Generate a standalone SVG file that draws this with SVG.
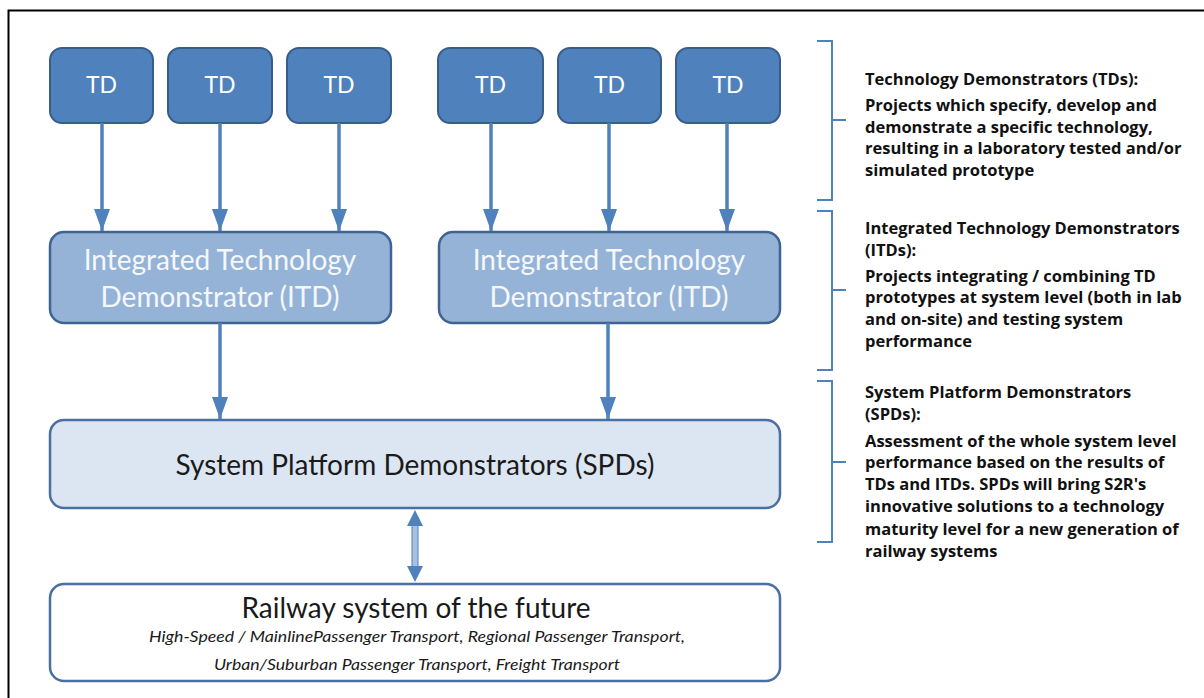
<svg xmlns="http://www.w3.org/2000/svg" width="1204" height="698" viewBox="0 0 1204 698">
<defs>
<style>
.td rect{fill:#4f81bd;stroke:#385d8a;stroke-width:2}
.td text{fill:#fff;font-family:Lato,"Open Sans",sans-serif;font-size:23px;text-anchor:middle}
.itd rect{fill:#95b3d7;stroke:#3f6491;stroke-width:2.5}
.itd text{fill:#f4f7fb;font-family:Lato,"Open Sans",sans-serif;font-size:28px;text-anchor:middle}
.spd rect{fill:#dce6f2;stroke:#4a6fa0;stroke-width:2.5}
.dark{fill:#1a1a1a;font-family:Lato,"Open Sans",sans-serif;text-anchor:middle}
.conn line{stroke:#4f81bd;stroke-width:3.5}
.brace{fill:none;stroke:#4f81bd;stroke-width:2}
.desc{fill:#111;font-family:"Open Sans","Liberation Sans",sans-serif;font-weight:bold;font-size:16.5px}
</style>
<marker id="ah" markerWidth="22" markerHeight="16" refX="22" refY="8" orient="auto" markerUnits="userSpaceOnUse" viewBox="0 0 22 16">
<path d="M0,0 L22,8 L0,16 Z" fill="#4f81bd"/>
</marker>
</defs>
<rect width="1204" height="698" fill="#fff"/>
<path d="M8.5,698 L8.5,10.5 L1204,10.5" fill="none" stroke="#000" stroke-width="2"/>

<g id="td1" class="td"><rect x="50" y="48" width="103" height="75" rx="12"/><text x="101.5" y="93">TD</text></g>
<g id="td2" class="td"><rect x="168" y="48" width="104" height="75" rx="12"/><text x="220" y="93">TD</text></g>
<g id="td3" class="td"><rect x="287" y="48" width="104" height="75" rx="12"/><text x="339" y="93">TD</text></g>
<g id="td4" class="td"><rect x="438" y="48" width="105" height="75" rx="12"/><text x="490.5" y="93">TD</text></g>
<g id="td5" class="td"><rect x="558" y="48" width="103" height="75" rx="12"/><text x="609.5" y="93">TD</text></g>
<g id="td6" class="td"><rect x="676" y="48" width="104" height="75" rx="12"/><text x="728" y="93">TD</text></g>

<g id="itd1" class="itd"><rect x="50" y="232" width="341" height="91" rx="14"/><text x="220" y="270">Integrated Technology</text><text x="220" y="307">Demonstrator (ITD)</text></g>
<g id="itd2" class="itd"><rect x="439" y="232" width="341" height="91" rx="14"/><text x="609" y="270">Integrated Technology</text><text x="609" y="307">Demonstrator (ITD)</text></g>

<g id="spd" class="spd"><rect x="50" y="420" width="730" height="88" rx="14"/><text class="dark" x="415" y="475" font-size="28">System Platform Demonstrators (SPDs)</text></g>

<g id="railway"><rect x="50" y="584" width="730" height="97" rx="14" fill="#fff" stroke="#4a6fa0" stroke-width="2.5"/>
<text class="dark" x="416" y="618" font-size="28">Railway system of the future</text>
<text class="dark" x="417" y="642" font-size="15" font-style="italic" fill="#222" textLength="536" lengthAdjust="spacingAndGlyphs">High-Speed / MainlinePassenger Transport, Regional Passenger Transport,</text>
<text class="dark" x="417" y="670" font-size="15" font-style="italic" fill="#222" textLength="406" lengthAdjust="spacingAndGlyphs">Urban/Suburban Passenger Transport, Freight Transport</text>
</g>

<g id="connectors" class="conn">
<line x1="102" y1="123" x2="102" y2="231" marker-end="url(#ah)"/>
<line x1="220" y1="123" x2="220" y2="231" marker-end="url(#ah)"/>
<line x1="339" y1="123" x2="339" y2="231" marker-end="url(#ah)"/>
<line x1="491" y1="123" x2="491" y2="231" marker-end="url(#ah)"/>
<line x1="609" y1="123" x2="609" y2="231" marker-end="url(#ah)"/>
<line x1="727" y1="123" x2="727" y2="231" marker-end="url(#ah)"/>
<line x1="220" y1="323" x2="220" y2="419" marker-end="url(#ah)"/>
<line x1="608" y1="323" x2="608" y2="419" marker-end="url(#ah)"/>
<path d="M415,510 L423,526 L418.5,526 L418.5,566 L423,566 L415,582 L407,566 L411.5,566 L411.5,526 L407,526 Z" fill="#4f81bd"/>
<rect x="412.5" y="526" width="5" height="40" fill="#a9c1e0"/>
</g>

<g id="braces">
<path class="brace" d="M817,41 L832,41 L832,120 L846,120 M832,120 L832,200 L817,200"/>
<path class="brace" d="M817,211 L832,211 L832,290 L846,290 M832,290 L832,370 L817,370"/>
<path class="brace" d="M817,381 L832,381 L832,462 L846,462 M832,462 L832,542 L817,542"/>
</g>

<g id="desc-td" class="desc">
<text x="865" y="85">Technology Demonstrators (TDs):</text>
<text x="865" y="111">Projects which specify, develop and</text>
<text x="865" y="133">demonstrate a specific technology,</text>
<text x="865" y="154">resulting in a laboratory tested and/or</text>
<text x="865" y="176">simulated prototype</text>
</g>
<g id="desc-itd" class="desc">
<text x="865" y="234">Integrated Technology Demonstrators</text>
<text x="865" y="256">(ITDs):</text>
<text x="865" y="282">Projects integrating / combining TD</text>
<text x="865" y="303">prototypes at system level (both in lab</text>
<text x="865" y="325">and on-site) and testing system</text>
<text x="865" y="347">performance</text>
</g>
<g id="desc-spd" class="desc">
<text x="865" y="398">System Platform Demonstrators</text>
<text x="865" y="420">(SPDs):</text>
<text x="865" y="447">Assessment of the whole system level</text>
<text x="865" y="468">performance based on the results of</text>
<text x="865" y="490">TDs and ITDs. SPDs will bring S2R's</text>
<text x="865" y="512">innovative solutions to a technology</text>
<text x="865" y="535">maturity level for a new generation of</text>
<text x="865" y="557">railway systems</text>
</g>
</svg>
